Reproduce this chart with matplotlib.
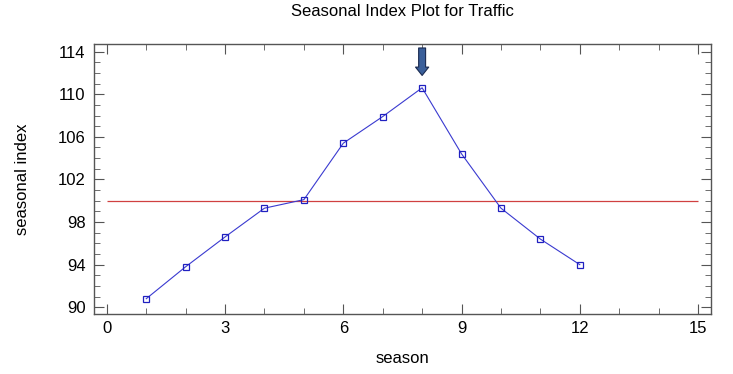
import matplotlib
matplotlib.use("Agg")
import matplotlib.pyplot as plt
from matplotlib.ticker import MultipleLocator

# seasonal index values
season = [1, 2, 3, 4, 5, 6, 7, 8, 9, 10, 11, 12]
index = [90.8, 93.8, 96.6, 99.3, 100.1, 105.4, 107.9, 110.6, 104.4, 99.3, 96.4, 94.0]
baseline = 100
peak_season = 8

plt.rcParams['font.family'] = ['Liberation Sans', 'DejaVu Sans']

fig = plt.figure(figsize=(7.33, 3.74), dpi=100)
ax = fig.add_axes([0.128, 0.160, 0.842, 0.722])

ax.hlines(baseline, 0, 15, color='#d04040', lw=0.9)
ax.plot(season, index, color='#3a3ad0', lw=0.8, marker='s', ms=3.8,
        mfc='none', mec='#2020c0', mew=0.9)

# arrow marking the peak season
ax.annotate('', xy=(peak_season, index[peak_season - 1] + 0.9),
            xytext=(peak_season, 114.6),
            arrowprops=dict(arrowstyle='simple,head_width=0.95,head_length=0.6,tail_width=0.5',
                            fc='#3a5f9a', ec='#1a2a50', lw=0.8))

ax.set_xlim(-0.33, 15.33)
ax.set_ylim(89.35, 114.7)
ax.xaxis.set_major_locator(MultipleLocator(3))
ax.xaxis.set_minor_locator(MultipleLocator(1))
ax.yaxis.set_minor_locator(MultipleLocator(1))
ax.set_yticks([90, 94, 98, 102, 106, 110, 114])

ax.tick_params(which='both', direction='in', top=True, right=True, color='#555555')
ax.tick_params(which='major', length=7, labelsize=12)
ax.tick_params(axis='y', which='major', pad=6)
ax.tick_params(axis='x', which='major', pad=5)
ax.tick_params(which='minor', length=4)
for s in ax.spines.values():
    s.set_color('#555555')
    s.set_linewidth(1.0)

ax.set_xlabel('season', fontsize=12, labelpad=11)
ax.set_ylabel('seasonal index', fontsize=12, labelpad=20)
fig.text(0.549, 0.968, 'Seasonal Index Plot for Traffic', ha='center', va='center', fontsize=12)

fig.savefig('out.png', dpi=100)
